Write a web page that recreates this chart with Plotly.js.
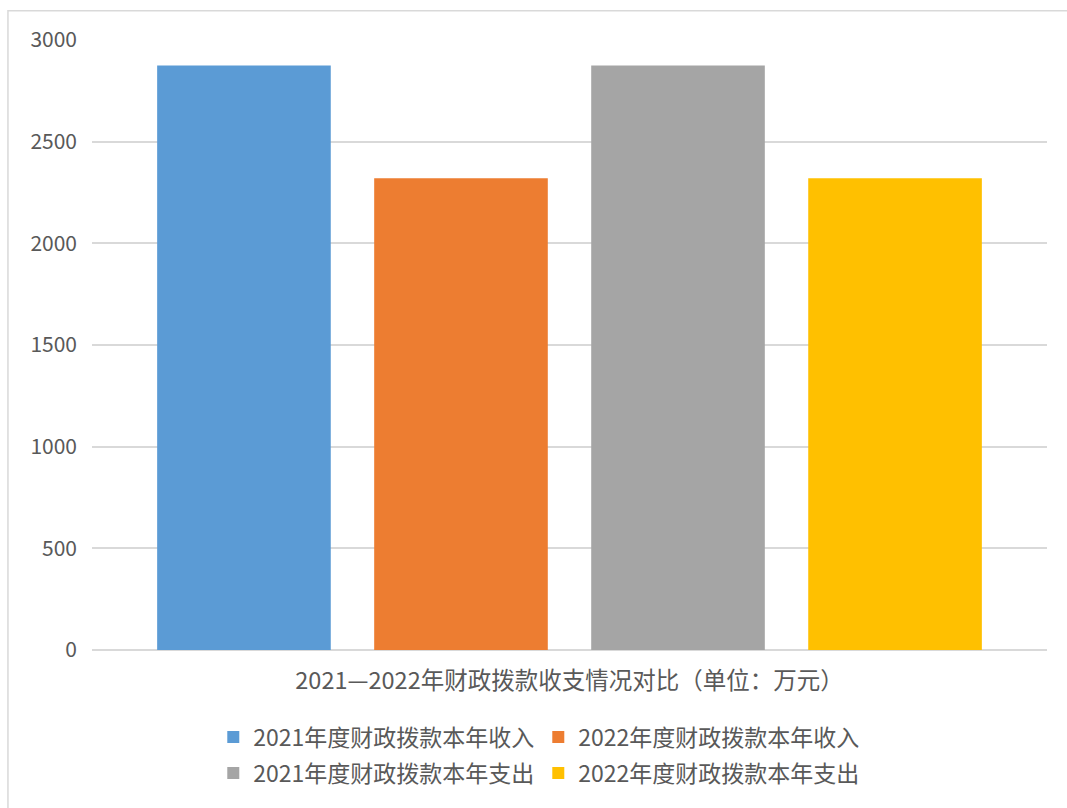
<!DOCTYPE html>
<html>
<head>
<meta charset="utf-8">
<script src="https://cdn.plot.ly/plotly-3.0.1.min.js"></script>
<style>html,body{margin:0;padding:0;background:#fff;}#chart{width:1067px;height:808px;}</style>
</head>
<body>
<div id="chart"></div>
<script>
const category = ["2021—2022年财政拨款收支情况对比（单位：万元）"];
const seriesNames = ["2021年度财政拨款本年收入", "2022年度财政拨款本年收入", "2021年度财政拨款本年支出", "2022年度财政拨款本年支出"];
const seriesValues = [2875, 2320, 2875, 2320];
const seriesColors = ["#5B9BD5", "#ED7D31", "#A5A5A5", "#FFC000"];
const seriesLegend = ["legend", "legend", "legend2", "legend2"];
const yTicks = [0, 500, 1000, 1500, 2000, 2500, 3000];

const FONT = '"Noto Sans CJK SC", "Noto Sans", sans-serif';
const TXT = '#595959';

const traces = seriesNames.map((n, i) => ({
  type: 'bar',
  name: n,
  x: category,
  y: [seriesValues[i]],
  marker: {color: seriesColors[i]},
  legend: seriesLegend[i],
  hoverinfo: 'name+y'
}));

const legendCommon = {
  orientation: 'h',
  xanchor: 'left',
  yanchor: 'middle',
  x: 0.127,
  entrywidth: 280,
  font: {family: FONT, size: 23, color: TXT},
  bgcolor: 'rgba(0,0,0,0)',
  itemclick: false,
  itemdoubleclick: false
};

const layout = {
  width: 1067,
  height: 808,
  margin: {l: 92, r: 20, t: 40, b: 158},
  paper_bgcolor: '#ffffff',
  plot_bgcolor: '#ffffff',
  font: {family: FONT, color: TXT},
  barmode: 'group',
  bargap: 0.091,
  bargroupgap: 0.2,
  xaxis: {
    type: 'category',
    showgrid: false,
    showline: false,
    zeroline: false,
    ticks: '',
    tickfont: {family: FONT, size: 23.5, color: TXT},
    ticklabelstandoff: 14
  },
  yaxis: {
    range: [0, 3000],
    tickvals: yTicks,
    ticktext: yTicks.map(String),
    showgrid: true,
    gridcolor: '#d9d9d9',
    gridwidth: 1.5,
    zeroline: true,
    zerolinecolor: '#d9d9d9',
    zerolinewidth: 1.5,
    showline: false,
    ticks: '',
    tickfont: {family: FONT, size: 21, color: TXT},
    ticklabelstandoff: 14
  },
  legend: Object.assign({}, legendCommon, {y: -0.1426}),
  legend2: Object.assign({}, legendCommon, {y: -0.2016}),
  showlegend: true,
  shapes: [{
    type: 'rect', xref: 'paper', yref: 'paper',
    x0: -0.088, x1: 1.05, y0: -0.4, y1: 1.048,
    line: {color: '#d9d9d9', width: 1.5},
    fillcolor: 'rgba(0,0,0,0)',
    layer: 'below'
  }]
};

Plotly.newPlot('chart', traces, layout, {displayModeBar: false, staticPlot: false});
</script>
</body>
</html>
